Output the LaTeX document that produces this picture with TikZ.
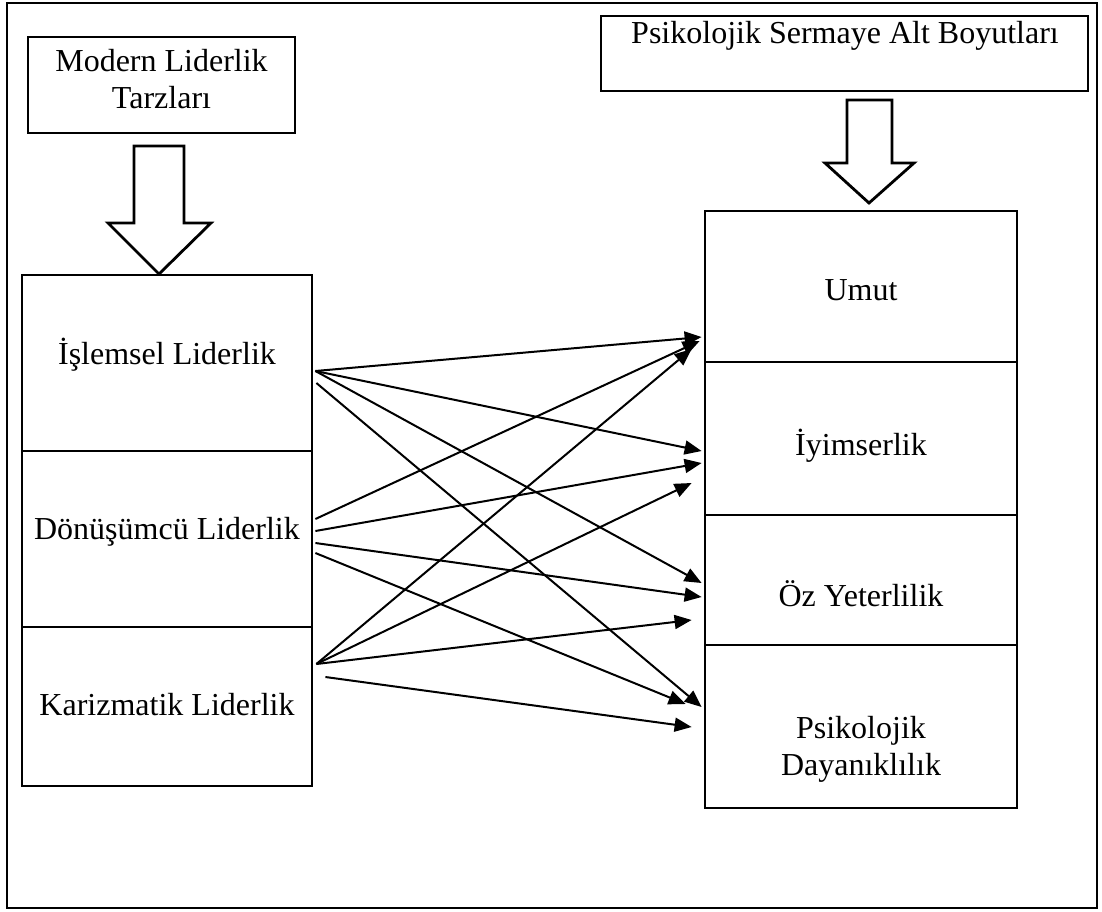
\documentclass[tikz,border=0pt]{standalone}
\usepackage{fontspec}
\setmainfont{Liberation Serif}
\usetikzlibrary{arrows.meta,calc}
\begin{document}
\begin{tikzpicture}[x=0.5pt,y=-0.5pt,
  bx/.style={draw,line width=1.4pt,rectangle,inner sep=0pt},
  txt/.style={font=\fontsize{16}{18.5}\selectfont,inner sep=0pt,align=center},
  blk/.style={draw,line width=1.4pt,line join=miter},
  con/.style={line width=1pt,-{Triangle[length=8.5pt,width=7pt]}}]
\useasboundingbox (0,0) rectangle (1102,911);
% outer frame
\draw[line width=1.2pt] (7,3) rectangle (1097,908);
% header boxes
\node[bx,minimum width=133.5pt,minimum height=48pt] (mod) at (161.5,85) {};
\node[txt] (modT) at (161.5,79) {Modern Liderlik\\Tarzları};
\node[bx,minimum width=243.5pt,minimum height=37.5pt] (psk) at (844.5,53.5) {};
\node[txt,anchor=base] (pskT) at (845,43) {Psikolojik Sermaye Alt Boyutları};
% block arrows
\draw[blk] (134,146) -- (184,146) -- (184,223) -- (211,223) -- (159,274) -- (108,223) -- (134,223) -- cycle;
\draw[blk] (847,100) -- (892,100) -- (892,163) -- (914,163) -- (869,203) -- (825,163) -- (847,163) -- cycle;
% left column
\node[bx,minimum width=145pt,minimum height=88pt] (isl) at (167,363) {};
\node[bx,minimum width=145pt,minimum height=88pt] (don) at (167,539) {};
\node[bx,minimum width=145pt,minimum height=79.5pt] (kar) at (167,706.5) {};
\node[txt,anchor=base] (islT) at (167,364) {İşlemsel Liderlik};
\node[txt,anchor=base] (donT) at (167,539) {Dönüşümcü Liderlik};
\node[txt,anchor=base] (karT) at (167,715) {Karizmatik Liderlik};
% right column
\node[bx,minimum width=156pt,minimum height=75.5pt] (umut) at (861,286.5) {};
\node[bx,minimum width=156pt,minimum height=76.5pt] (iyi) at (861,438.5) {};
\node[bx,minimum width=156pt,minimum height=65pt] (oz) at (861,580) {};
\node[bx,minimum width=156pt,minimum height=81.5pt] (pd) at (861,726.5) {};
\node[txt,anchor=base] (umutT) at (861,300) {Umut};
\node[txt,anchor=base] (iyiT) at (861,455) {İyimserlik};
\node[txt,anchor=base] (ozT) at (861,606) {Öz Yeterlilik};
\node[txt] (pdT) at (861,749) {Psikolojik\\Dayanıklılık};
% start points
\coordinate (iA) at ($(isl.east)+(2,8)$);
\coordinate (iB) at ($(isl.east)+(3,20)$);
\coordinate (dA) at ($(don.east)+(2,-20)$);
\coordinate (dB) at ($(don.east)+(2,-8)$);
\coordinate (dC) at ($(don.east)+(2,4)$);
\coordinate (dD) at ($(don.east)+(2,14)$);
\coordinate (kA) at ($(kar.east)+(3,-42.5)$);
\coordinate (kB) at ($(kar.east)+(12,-29.5)$);
% end points
\coordinate (u1) at ($(umut.west)+(-2,50.5)$);
\coordinate (u2) at ($(umut.west)+(-4,54.5)$);
\coordinate (u3) at ($(umut.west)+(-12,62.5)$);
\coordinate (y1) at ($(iyi.west)+(-2,12.5)$);
\coordinate (y2) at ($(iyi.west)+(-2,24.5)$);
\coordinate (y3) at ($(iyi.west)+(-12,44.5)$);
\coordinate (o1) at ($(oz.west)+(-2,3)$);
\coordinate (o2) at ($(oz.west)+(-2,17)$);
\coordinate (o3) at ($(oz.west)+(-12,40)$);
\coordinate (p1) at ($(pd.west)+(-2,-19.5)$);
\coordinate (p2) at ($(pd.west)+(-18,-22.5)$);
\coordinate (p3) at ($(pd.west)+(-12,0.5)$);
% connectors
\draw[con] (iA) -- (u1);
\draw[con] (iA) -- (y1);
\draw[con] (iA) -- (o1);
\draw[con] (iB) -- (p1);
\draw[con] (dA) -- (u2);
\draw[con] (dB) -- (y2);
\draw[con] (dC) -- (o2);
\draw[con] (dD) -- (p2);
\draw[con] (kA) -- (u3);
\draw[con] (kA) -- (y3);
\draw[con] (kA) -- (o3);
\draw[con] (kB) -- (p3);
\end{tikzpicture}
\end{document}
